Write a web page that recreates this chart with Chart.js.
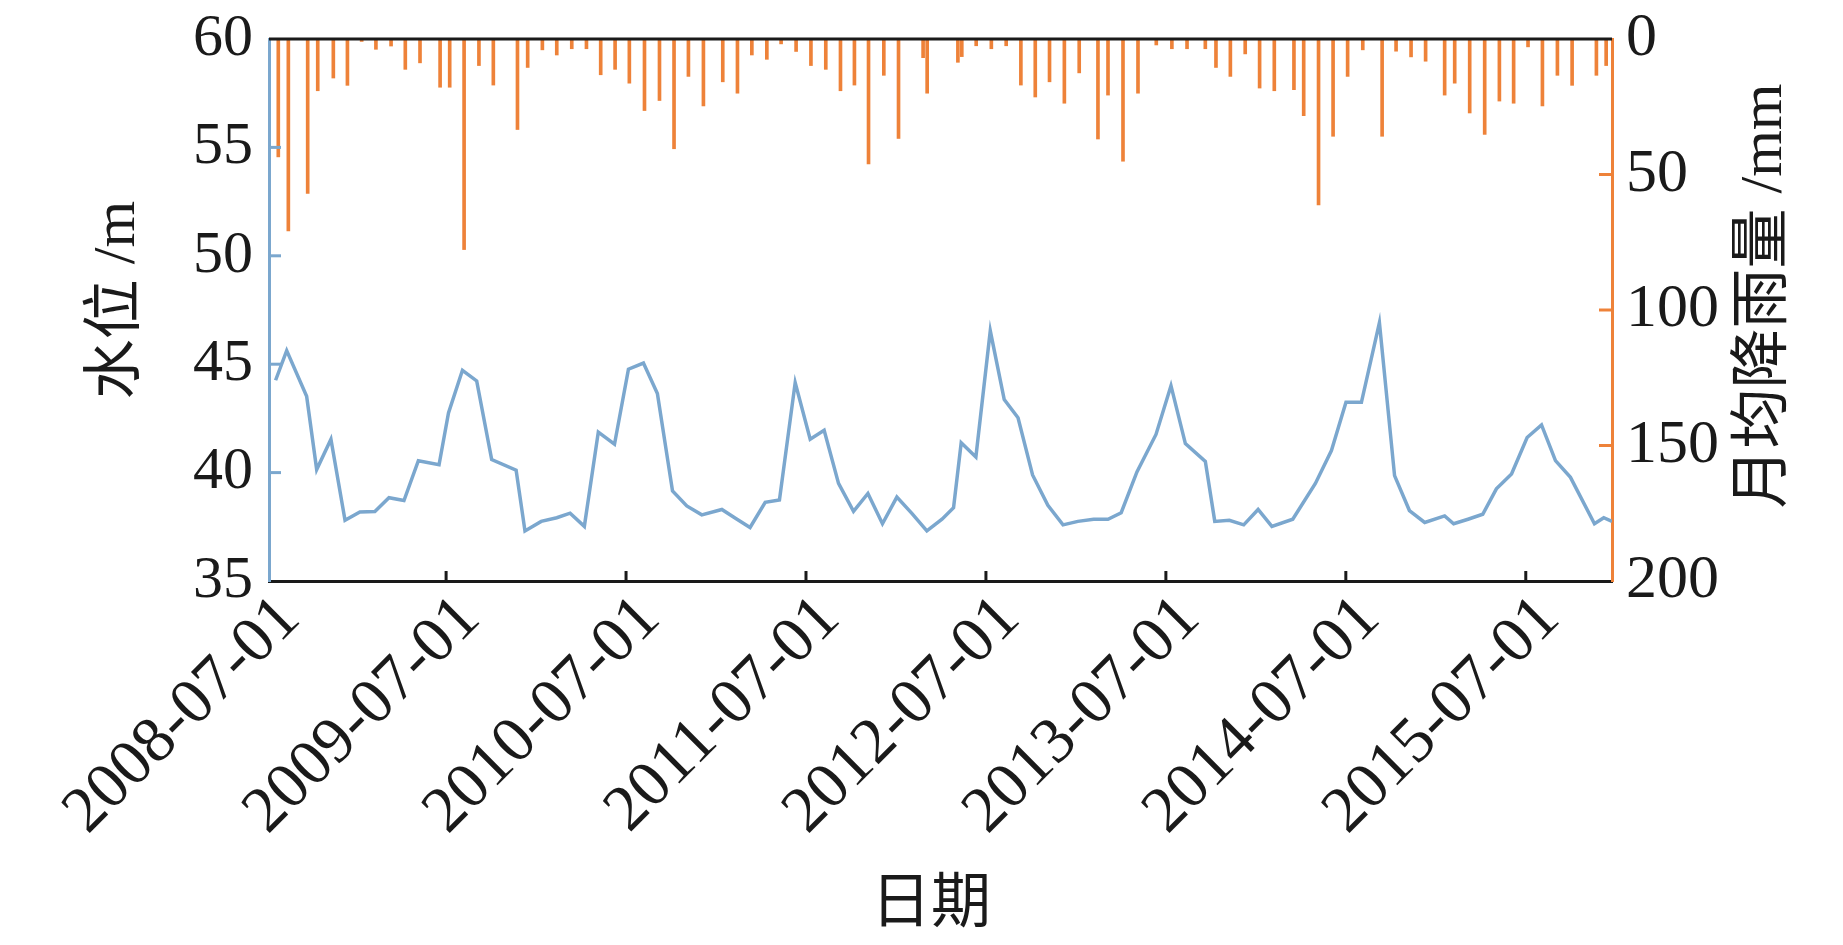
<!DOCTYPE html>
<html>
<head>
<meta charset="utf-8">
<script src="https://cdn.jsdelivr.net/npm/chart.js@4.4.1/dist/chart.umd.min.js"></script>
<style>
  html, body { margin: 0; padding: 0; background: #fff; }
  canvas { display: block; }
</style>
</head>
<body>
<canvas id="chart" width="1843" height="945"></canvas>
<script>
// x values are months counted from 2008-07-01
var levelT = [0.63, 1.37, 2.70, 3.37, 4.32, 5.26, 6.25, 7.25, 8.19, 9.19, 10.15, 11.53,
  12.16, 13.09, 14.04, 15.04, 16.67, 17.26, 18.34, 19.38, 20.27, 21.22, 22.15, 23.23,
  24.16, 25.16, 26.09, 27.10, 28.05, 29.05, 30.39, 31.32, 32.27, 33.28, 34.23, 35.28,
  36.28, 37.21, 38.17, 39.17, 40.13, 41.10, 42.06, 43.06, 44.06, 45.07, 45.84, 46.35,
  47.33, 48.29, 49.22, 50.14, 51.11, 52.13, 53.14, 54.13, 55.18, 56.14, 57.02, 58.07,
  59.34, 60.34, 61.30, 62.63, 63.26, 64.23, 65.19, 66.15, 67.07, 68.46, 69.97, 71.04,
  72.01, 73.04, 74.24, 75.25, 76.24, 77.26, 78.59, 79.19, 80.15, 81.13, 82.04, 83.05,
  84.09, 85.05, 85.98, 86.98, 88.58, 89.20, 89.75];
var levelM = [44.26, 45.63, 43.52, 40.14, 41.54, 37.80, 38.18, 38.21, 38.84, 38.71, 40.55, 40.36,
  42.75, 44.72, 44.23, 40.60, 40.11, 37.31, 37.75, 37.92, 38.13, 37.52, 41.87, 41.31,
  44.77, 45.05, 43.65, 39.15, 38.46, 38.05, 38.30, 37.88, 37.47, 38.63, 38.74, 44.15,
  41.54, 41.95, 39.50, 38.21, 39.04, 37.64, 38.87, 38.12, 37.31, 37.85, 38.38, 41.38,
  40.72, 46.54, 43.37, 42.53, 39.89, 38.49, 37.59, 37.75, 37.85, 37.85, 38.15, 40.03,
  41.76, 44.01, 41.34, 40.52, 37.75, 37.80, 37.59, 38.30, 37.52, 37.85, 39.50, 41.02,
  43.24, 43.24, 46.92, 39.86, 38.25, 37.70, 38.00, 37.64, 37.85, 38.08, 39.25, 39.94,
  41.62, 42.20, 40.55, 39.78, 37.64, 37.92, 37.75];

var rainT = [0.81, 1.48, 2.77, 3.44, 4.48, 5.42, 6.37, 7.32, 8.33, 9.28, 10.26, 11.60,
  12.24, 13.20, 14.19, 15.15, 16.76, 17.44, 18.42, 19.38, 20.38, 21.36, 22.31, 23.27,
  24.22, 25.23, 26.23, 27.20, 28.16, 29.16, 30.45, 31.43, 32.39, 33.39, 34.34, 35.34,
  36.33, 37.32, 38.30, 39.23, 40.17, 41.19, 42.17, 43.81, 44.08, 46.13, 46.39, 47.35,
  48.36, 49.35, 50.33, 51.29, 52.24, 53.23, 54.22, 55.47, 56.14, 57.14, 58.14, 59.36,
  60.40, 61.41, 62.63, 63.34, 64.30, 65.29, 66.25, 67.23, 68.54, 69.19, 70.18, 71.15,
  72.12, 73.13, 74.42, 75.35, 76.35, 77.32, 78.59, 79.26, 80.26, 81.26, 82.24, 83.19,
  84.15, 85.11, 86.11, 87.09, 88.71, 89.36];
var rainMM = [43.5, 70.8, 57.0, 19.1, 14.4, 17.1, 0.9, 3.8, 2.6, 11.2, 8.8, 17.8,
  17.8, 77.7, 9.8, 17.0, 33.4, 10.5, 4.0, 5.9, 3.6, 3.6, 13.2, 11.2,
  16.3, 26.4, 22.7, 40.5, 13.8, 24.7, 15.8, 20.0, 5.9, 7.5, 1.8, 4.6,
  9.8, 11.2, 19.1, 17.0, 46.1, 13.4, 36.7, 6.9, 20.0, 8.6, 6.5, 2.5,
  3.6, 2.5, 17.0, 21.4, 15.8, 23.7, 12.5, 36.9, 20.7, 45.1, 20.0, 2.2,
  3.6, 3.6, 3.6, 10.5, 13.8, 5.5, 18.1, 19.1, 18.7, 28.3, 61.2, 35.9,
  13.8, 4.0, 35.9, 4.5, 6.6, 8.2, 20.7, 16.3, 27.3, 35.2, 22.9, 23.7,
  2.9, 24.7, 13.4, 17.1, 13.4, 9.8];

var tickT = [0, 12, 24, 36, 48, 60, 72, 84];
var tickLabels = ['2008-07-01', '2009-07-01', '2010-07-01', '2011-07-01',
  '2012-07-01', '2013-07-01', '2014-07-01', '2015-07-01'];

var BLUE = '#7BA7CE';
var ORANGE = '#EE8239';
var INK = '#1a1a1a';
var FONT = '"Liberation Serif", "Noto Sans CJK SC", serif';

Chart.defaults.font.family = FONT;
Chart.defaults.color = INK;

var levelData = [];
for (var i in levelT) {
  levelData.push({x: levelT[i], y: levelM[i]});
}
var rainData = [];
for (var j in rainT) {
  rainData.push({x: rainT[j], y: rainMM[j]});
}

// keep the plot box fixed, whatever the labels ask for
function fixBox(size) {
  return function(s) {
    if (s.isHorizontal()) s.height = size; else s.width = size;
    s.paddingTop = 0; s.paddingBottom = 0;
    s.paddingLeft = 0; s.paddingRight = 0;
  };
}

function sideText(ctx, text, x, y, angle) {
  ctx.save();
  ctx.translate(x, y);
  ctx.rotate(angle);
  ctx.font = '60px ' + FONT;
  ctx.fillStyle = INK;
  ctx.textAlign = 'center';
  ctx.textBaseline = 'middle';
  ctx.fillText(text, 0, 0);
  ctx.restore();
}

// inward tick marks, top frame line and axis titles
var axisMarks = {
  id: 'axisMarks',
  afterDraw: function(chart) {
    var ctx = chart.ctx;
    var a = chart.chartArea;
    var sy = chart.scales.y, sy2 = chart.scales.y2, sx = chart.scales.x;
    ctx.save();
    ctx.lineWidth = 3;

    ctx.strokeStyle = BLUE;
    sy.ticks.forEach(function(t) {
      var p = sy.getPixelForValue(t.value);
      if (p < a.top + 3 || p > a.bottom - 3) return;
      ctx.beginPath(); ctx.moveTo(a.left, p); ctx.lineTo(a.left + 12, p); ctx.stroke();
    });

    ctx.strokeStyle = ORANGE;
    sy2.ticks.forEach(function(t) {
      var p = sy2.getPixelForValue(t.value);
      if (p < a.top + 3 || p > a.bottom - 3) return;
      ctx.beginPath(); ctx.moveTo(a.right - 13, p); ctx.lineTo(a.right, p); ctx.stroke();
    });

    ctx.strokeStyle = INK;
    sx.ticks.forEach(function(t) {
      var p = sx.getPixelForValue(t.value);
      if (p < a.left + 3 || p > a.right - 3) return;
      ctx.beginPath(); ctx.moveTo(p, a.bottom); ctx.lineTo(p, a.bottom - 10); ctx.stroke();
    });

    ctx.beginPath(); ctx.moveTo(a.left, a.top); ctx.lineTo(a.right, a.top); ctx.stroke();
    ctx.restore();

    sideText(ctx, '水位 /m', 118, 300, -Math.PI / 2);
    sideText(ctx, '月均降雨量 /mm', a.right + 153, 296, -Math.PI / 2);
    sideText(ctx, '日期', 931, 906, 0);
  }
};

var ctx = document.getElementById('chart');

var chart = new Chart(ctx, {
  type: 'line',
  data: {
    datasets: [
      {
        label: '水位',
        type: 'line',
        data: levelData,
        yAxisID: 'y',
        borderColor: BLUE,
        borderWidth: 3.5,
        pointRadius: 0,
        tension: 0,
        fill: false,
        order: 0
      },
      {
        label: '月均降雨量',
        type: 'bar',
        data: rainData,
        yAxisID: 'y2',
        backgroundColor: ORANGE,
        borderWidth: 0,
        barThickness: 3,
        order: 1
      }
    ]
  },
  options: {
    responsive: false,
    animation: false,
    layout: { padding: { top: 39, left: 0, right: 0, bottom: 0 } },
    plugins: {
      legend: { display: false },
      tooltip: { enabled: false }
    },
    scales: {
      x: {
        type: 'linear',
        position: 'bottom',
        min: 0.19,
        max: 89.75,
        offset: false,
        afterBuildTicks: function(s) {
          s.ticks = tickT.map(function(v) { return { value: v }; });
        },
        afterFit: fixBox(364),
        grid: { display: false, drawTicks: false, offset: false },
        border: { display: true, color: INK, width: 3 },
        ticks: {
          autoSkip: false,
          minRotation: 45,
          maxRotation: 45,
          padding: 0,
          labelOffset: 24,
          color: INK,
          font: { size: 65 },
          callback: function(v) {
            var k = tickT.indexOf(v);
            return k < 0 ? '' : tickLabels[k];
          }
        }
      },
      y: {
        type: 'linear',
        position: 'left',
        min: 35,
        max: 60,
        afterFit: fixBox(269),
        grid: { display: false, drawTicks: false },
        border: { display: true, color: BLUE, width: 3 },
        ticks: { stepSize: 5, padding: 16, color: INK, font: { size: 60 } }
      },
      y2: {
        type: 'linear',
        position: 'right',
        min: 0,
        max: 200,
        reverse: true,
        afterFit: fixBox(231),
        grid: { display: false, drawTicks: false },
        border: { display: true, color: ORANGE, width: 3 },
        ticks: { stepSize: 50, padding: 14, color: INK, font: { size: 62 } }
      }
    }
  },
  plugins: [axisMarks]
});
</script>
</body>
</html>
